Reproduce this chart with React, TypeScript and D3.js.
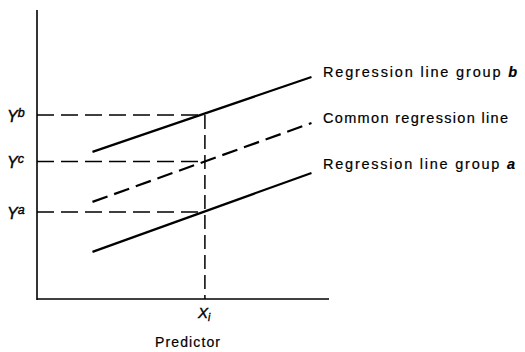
import React from "react";
import * as d3 from "d3";

// Conceptual data (arbitrary units)
const lineX = [1.9, 9.4];
const groupB = [5.09, 7.68];
const common = [3.36, 6.09];
const groupA = [1.63, 4.36];
const xi = 5.75;
const yLevels = [6.37, 4.76, 3.01];
const yLevelLabels = ["b", "c", "a"];
const lineLabels = ["Regression line group ", "Common regression line", "Regression line group "];
const lineLabelSuffix = ["b", "", "a"];
const xDomain = [0, 10];
const yDomain = [0, 10];

const W = 525;
const H = 352;

export default function App() {
  const x = d3.scaleLinear().domain(xDomain).range([37, 329]);
  const y = d3.scaleLinear().domain(yDomain).range([299, 10]);
  const line = d3
    .line<[number, number]>()
    .x((d) => x(d[0]))
    .y((d) => y(d[1]));
  const series = [groupB, common, groupA];
  const labelBaselines = [77, 123, 169];
  const labelLengths = [194, 185, 192];
  const font = "'Liberation Sans', Arial, sans-serif";
  const italicFont = "'Liberation Sans', Arial, sans-serif";
  return (
    <svg
      width={W}
      height={H}
      style={{ position: "absolute", left: 0, top: 0, background: "#fff" }}
    >
      {/* axes */}
      <line x1={x(0)} y1={y(10)} x2={x(0)} y2={y(0) + 1} stroke="#000" strokeWidth={1.6} />
      <line x1={x(0)} y1={y(0)} x2={x(10)} y2={y(0)} stroke="#000" strokeWidth={1.6} />

      {/* horizontal dashed guides */}
      {yLevels.map((v, i) => (
        <line
          key={"h" + i}
          x1={x(0)}
          x2={x(xi)}
          y1={y(v)}
          y2={y(v)}
          stroke="#000"
          strokeWidth={1.5}
          strokeDasharray="17 7"
        />
      ))}
      {/* vertical dashed guide */}
      <line
        x1={x(xi)}
        x2={x(xi)}
        y1={y(yLevels[0])}
        y2={y(0)}
        stroke="#000"
        strokeWidth={1.5}
        strokeDasharray="14 6"
      />

      {/* regression lines */}
      {series.map((s, i) => (
        <path
          key={"l" + i}
          d={line(lineX.map((xv, j) => [xv, s[j]]) as [number, number][]) || ""}
          fill="none"
          stroke="#000"
          strokeWidth={2.2}
          strokeDasharray={i === 1 ? "16 7" : undefined}
        />
      ))}

      {/* y level labels */}
      {yLevels.map((v, i) => (
        <text
          key={"yl" + i}
          x={7}
          y={y(v) + 7}
          fontFamily={italicFont}
          fontStyle="italic"
          fontSize={16}
          fill="#000"
          stroke="#000"
          strokeWidth={0.4}
        >
          Y
          <tspan dy={-5} fontSize={12.5}>
            {yLevelLabels[i]}
          </tspan>
        </text>
      ))}

      {/* Xi label */}
      <text
        x={x(xi) - 7}
        y={318}
        fontFamily={italicFont}
        fontStyle="italic"
        fontSize={15}
        fill="#000"
        stroke="#000"
        strokeWidth={0.4}
      >
        X
        <tspan dy={3} fontSize={10}>
          i
        </tspan>
      </text>

      {/* x axis title */}
      <text
        x={155}
        y={347}
        fontFamily={font}
        fontSize={14}
        fill="#000"
        stroke="#000"
        strokeWidth={0.2}
        textLength={65}
        lengthAdjust="spacing"
      >
        Predictor
      </text>

      {/* line labels */}
      {lineLabels.map((t, i) => (
        <text
          key={"ll" + i}
          x={323}
          y={labelBaselines[i]}
          fontFamily={font}
          fontSize={14.5}
          fill="#000"
          stroke="#000"
          strokeWidth={0.2}
          textLength={labelLengths[i]}
          lengthAdjust="spacing"
        >
          {t}
          {lineLabelSuffix[i] && (
            <tspan fontStyle="italic" fontWeight="bold">
              {lineLabelSuffix[i]}
            </tspan>
          )}
        </text>
      ))}
    </svg>
  );
}
